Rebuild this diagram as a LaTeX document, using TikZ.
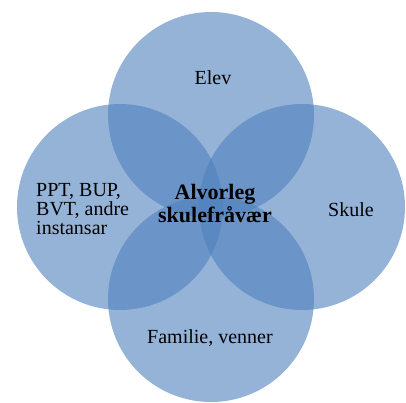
\documentclass[tikz,border=0pt]{standalone}
\usepackage{fontspec}
\setmainfont{Liberation Serif}
\definecolor{vennblue}{RGB}{79,129,189}
\tikzset{
  venn/.style={fill=vennblue, fill opacity=0.6},
  lbl/.style={inner sep=0pt, text=black, font=\fontsize{20}{19}\selectfont},
}
\begin{document}
\begin{tikzpicture}[x=1pt,y=-1pt]
    \useasboundingbox (0,0) rectangle (406,403);

    \coordinate (top) at (211,115);
    \coordinate (right) at (302,207);
    \coordinate (bottom) at (211,299);
    \coordinate (left) at (120,207);

    \fill[venn] (top) circle (103);
    \fill[venn] (right) circle (103);
    \fill[venn] (bottom) circle (103);
    \fill[venn] (left) circle (103);

    \node[lbl, anchor=base] (elev) at (213,85) {Elev};
    \node[lbl, anchor=base] (skule) at (351,216) {Skule};
    \node[lbl, anchor=base] (familie) at (210,343) {Familie, venner};
    \node[lbl, anchor=west, align=left] (instansar) at (36,209.5) {PPT, BUP,\\BVT, andre\\instansar};
    \node[lbl, font=\bfseries\fontsize{22}{23}\selectfont, align=center] (fravaer) at (215,204) {Alvorleg\\skulefråvær};
\end{tikzpicture}
\end{document}
